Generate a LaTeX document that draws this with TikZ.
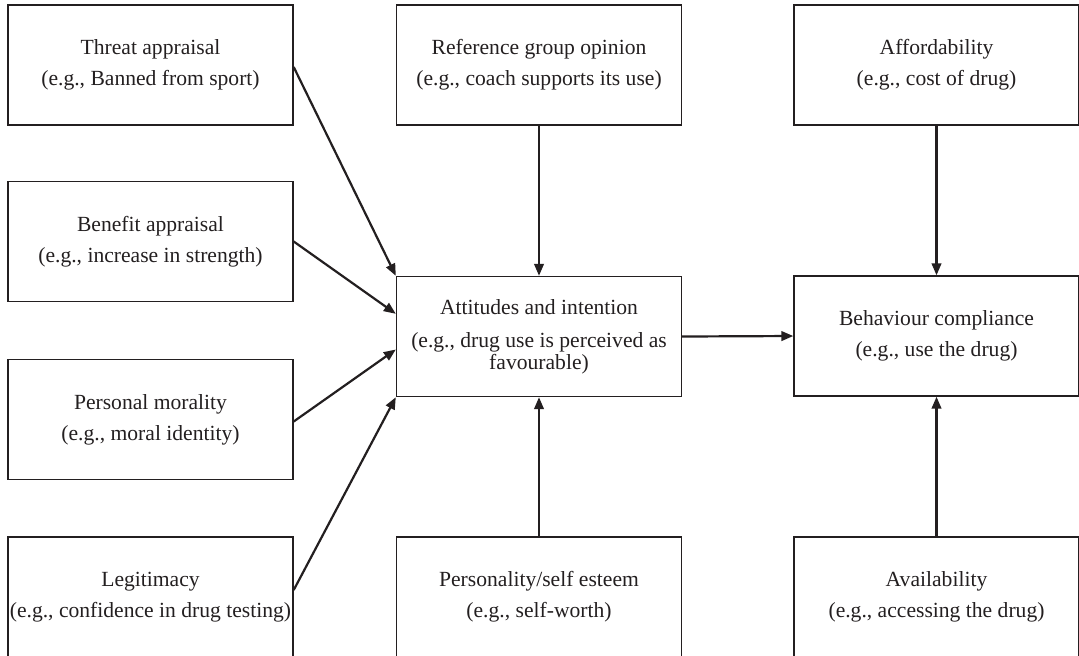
\documentclass[tikz,border=0pt]{standalone}
\usepackage{fontspec}
\setmainfont{Liberation Serif}
\usetikzlibrary{arrows.meta,calc}
\definecolor{ink}{HTML}{231F20}
\begin{document}
\begin{tikzpicture}[x=0.5pt,y=-0.5pt,
  factor/.style={draw=ink,line width=0.7pt,minimum width=142.5pt,minimum height=60pt,
    inner sep=0pt,align=center,text=ink,font=\fontsize{10.8}{11.2}\selectfont},
  link/.style={draw=ink,line width=1.1pt,-{Triangle[length=6pt,width=4.8pt]}}]
\useasboundingbox (0,0) rectangle (1079,655);
\clip (0,0) rectangle (1079,655);
% left column: appraisals
\node[factor] (threat) at (150.5,65)  {Threat appraisal\\[4.3pt](e.g., Banned from sport)};
\node[factor] (benefit) at (150.5,241.5) {Benefit appraisal\\[4.3pt](e.g., increase in strength)};
\node[factor] (moral) at (150.5,419.5) {Personal morality\\[4.3pt](e.g., moral identity)};
\node[factor] (legit) at (150.5,597) {Legitimacy\\[4.3pt](e.g., confidence in drug testing)};
% middle column
\node[factor] (ref) at (539,65) {Reference group opinion\\[4.3pt](e.g., coach supports its use)};
\node[factor] (att) at (539,336.5) {Attitudes and intention\\[5.3pt](e.g., drug use is perceived as\\favourable)};
\node[factor] (pers) at (539,597) {Personality/self esteem\\[4.3pt](e.g., self-worth)};
% right column
\node[factor] (afford) at (936.5,65) {Affordability\\[4.3pt](e.g., cost of drug)};
\node[factor] (beh) at (936.5,336) {Behaviour compliance\\[4.3pt](e.g., use the drug)};
\node[factor] (avail) at (936.5,597) {Availability\\[4.3pt](e.g., accessing the drug)};
% connectors
\draw[link] ($(threat.east)+(0,2)$) -- (att.north west);
\draw[link] (benefit.east) -- ($(att.north west)+(0,38)$);
\draw[link] ($(moral.east)+(0,2)$) -- ($(att.west)+(0,13)$);
\draw[link] ($(legit.east)+(0,-7)$) -- (att.south west);
\draw[link] (ref.south) -- (att.north);
\draw[link] (pers.north) -- (att.south);
\draw[link] (att.east) -- (beh.west);
\draw[link] (afford.south) -- (beh.north);
\draw[link] (avail.north) -- (beh.south);
\end{tikzpicture}
\end{document}
